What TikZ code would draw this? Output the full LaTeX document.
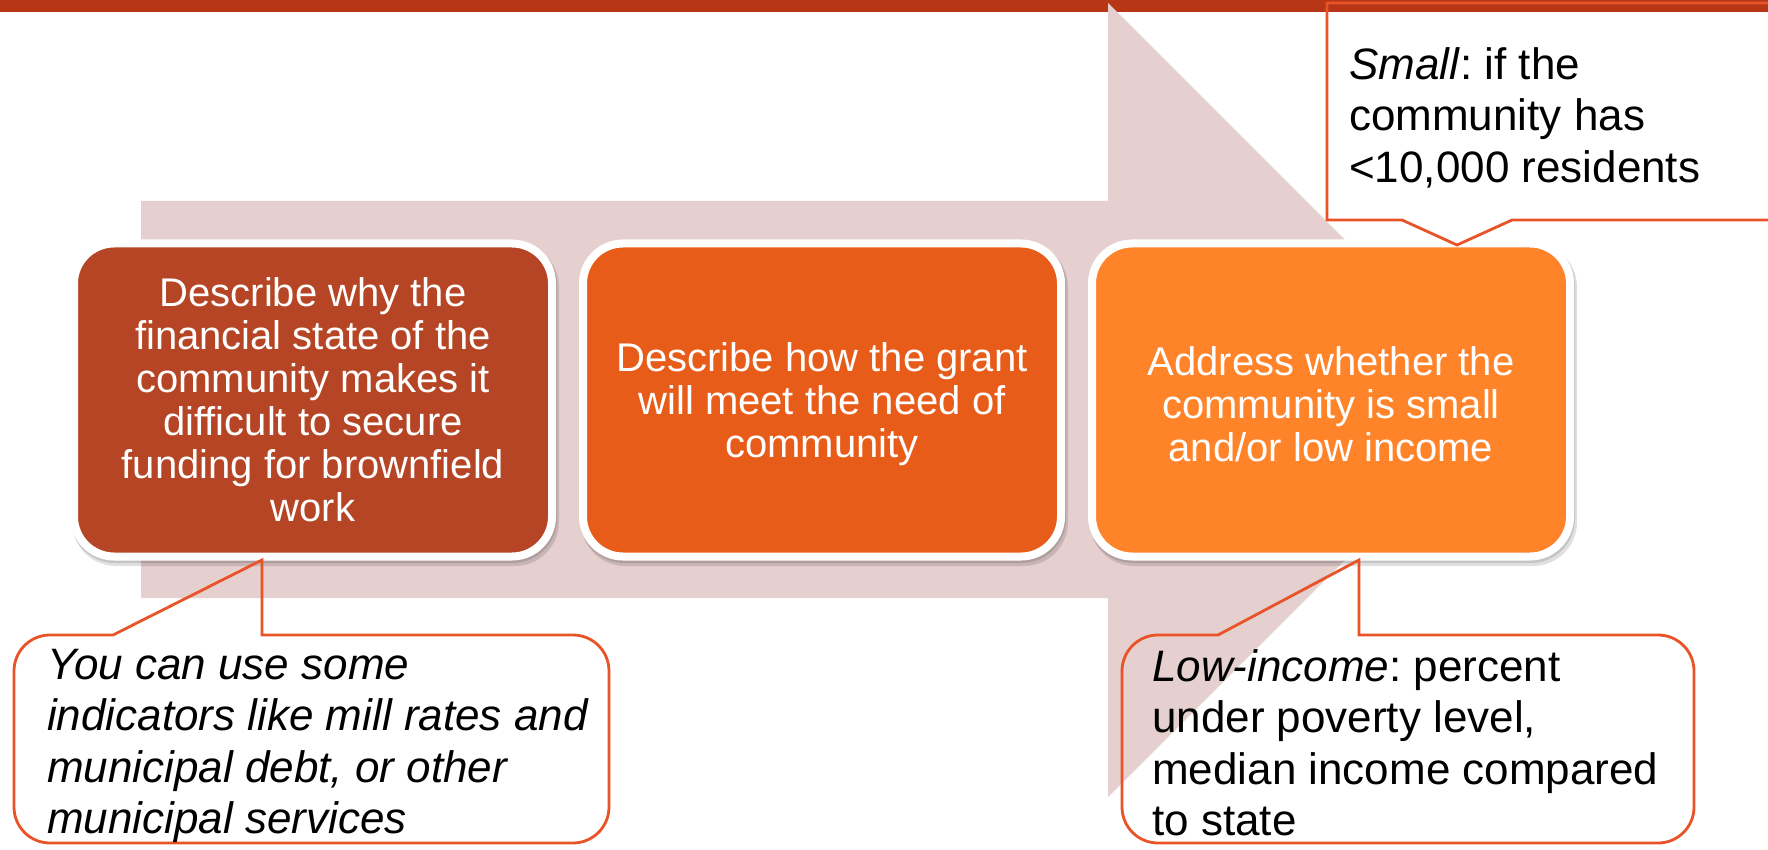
\documentclass[tikz,border=0pt]{standalone}
\usepackage{fontspec}
\setmainfont{Liberation Sans}
\frenchspacing
\definecolor{barc}{RGB}{182,54,22}
\definecolor{pinkc}{RGB}{229,207,207}
\definecolor{boxa}{RGB}{181,69,36}
\definecolor{boxb}{RGB}{232,92,26}
\definecolor{boxc}{RGB}{254,131,41}
\definecolor{calloutc}{RGB}{232,83,40}
\tikzset{
  stepbox/.style={draw=white, line width=8pt, rounded corners=40pt,
    minimum width=478pt, minimum height=313pt, inner sep=0pt,
    text=white, align=center, font=\fontsize{40}{43}\selectfont},
  callout/.style={draw=calloutc, line width=2.8pt, line join=miter},
  calltext/.style={anchor=north west, align=left, inner sep=0pt,
    font=\fontsize{44}{51.5}\selectfont, text=black},
  shadowc/.style={fill=black, opacity=0.12, rounded corners=44pt}
}
\begin{document}
\begin{tikzpicture}[x=1pt,y=-1pt]
\useasboundingbox (0,0) rectangle (1768,850);
\fill[white] (0,0) rectangle (1768,850);
% top bar
\fill[barc] (0,0) rectangle (1768,12);
% big arrow
\fill[pinkc] (141,201) -- (1108,201) -- (1108,3) -- (1505,400) -- (1108,797)
  -- (1108,598) -- (141,598) -- cycle;
% shadows
\foreach \cx in {313,822,1331}{
  \fill[shadowc] (\cx-241,243) rectangle (\cx+246,566);
  \fill[shadowc] (\cx-242,241) rectangle (\cx+244,563);
}
% step boxes
\node[stepbox, fill=boxa] (b1) at (313,400) {Describe why the\\financial state of the\\community makes it\\difficult to secure\\funding for brownfield\\work};
\node[stepbox, fill=boxb] (b2) at (822,400) {\rule{0pt}{38pt}Describe how the grant\\will meet the need of\\community};
\node[stepbox, fill=boxc] (b3) at (1331,400) {\rule{0pt}{38pt}Address whether the\\community is small\\and/or low income};
% callout: small
\draw[callout] (1327,3) -- (1772,3) -- (1772,220) -- (1512,220) -- (1457,245)
  -- (1402,220) -- (1327,220) -- cycle;
\node[calltext] (t1) at (1349,47) {\textit{Small}: if the\\community has\\<10,000 residents};
% callout: bottom left
\draw[callout] (262,600) -- (262,560) -- (113,635) -- (80,635) [rounded corners=36pt]
  -- (14,635) -- (14,843) -- (609,843) -- (609,635) -- (300,635) [sharp corners]
  -- (262,635) -- cycle;
\node[calltext, font=\fontsize{44}{51.5}\selectfont\itshape] (t2) at (47,649)
  {You can use some\\indicators like mill rates and\\municipal debt, or other\\municipal services};
% callout: bottom right
\draw[callout] (1359,600) -- (1359,560) -- (1218,635) -- (1190,635) [rounded corners=36pt]
  -- (1122,635) -- (1122,843) -- (1694,843) -- (1694,635) -- (1400,635) [sharp corners]
  -- (1359,635) -- cycle;
\node[calltext] (t3) at (1152,649)
  {\textit{Low-income}: percent\\under poverty level,\\median income compared\\to state};
\end{tikzpicture}
\end{document}
